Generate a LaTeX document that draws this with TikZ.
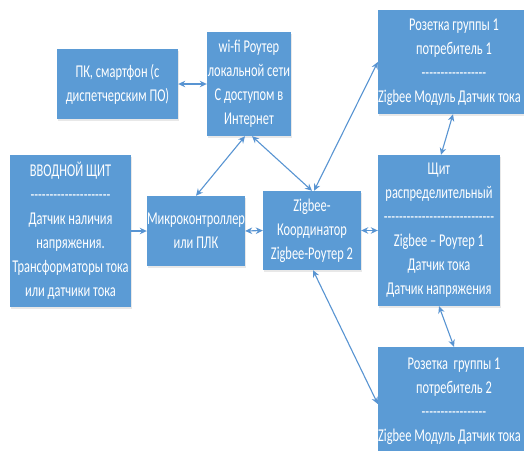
\documentclass[tikz,border=0pt]{standalone}
\usepackage{fontspec}
\setmainfont{Carlito}[FakeStretch=0.69,Ligatures=TeXOff]
\usetikzlibrary{arrows.meta,shadows}
\definecolor{boxblue}{RGB}{91,155,213}
\definecolor{linkblue}{RGB}{88,148,210}
\tikzset{
  block/.style={rectangle, fill=boxblue, draw=none, text=white, align=center,
    inner sep=0pt, font=\fontsize{18pt}{24pt}\selectfont,
    drop shadow={opacity=0.18, shadow xshift=1pt, shadow yshift=-2pt}},
  link/.style={draw=linkblue, line width=1.1pt,
    {Stealth[length=7pt,width=6.5pt]}-{Stealth[length=7pt,width=6.5pt]}},
  onelink/.style={draw=linkblue, line width=1.1pt, -{Stealth[length=7pt,width=6.5pt]}}
}
\begin{document}
\begin{tikzpicture}[x=1pt,y=-1pt]
\clip (0,0) rectangle (524,450);
\fill[white] (0,0) rectangle (524,450);

% blocks
\node[block, minimum width=121pt, minimum height=70pt] (pc) at (117.5,84)
  {ПК, смартфон (с\\диспетчерским ПО)};
\node[block, minimum width=84pt, minimum height=104pt] (wifi) at (249,84)
  {wi-fi Роутер\\локальной сети\\С доступом в\\Интернет};
\node[block, minimum width=152pt, minimum height=104pt] (soc1) at (454,62)
  {Розетка группы 1\\потребитель 1\\-----------------\\Zigbee Модуль Датчик тока 1};
\node[block, minimum width=121pt, minimum height=152pt] (inlet) at (70.5,231)
  {ВВОДНОЙ ЩИТ\\---------------------\\Датчик наличия\\напряжения.\\Трансформаторы тока\\или датчики тока};
\node[block, minimum width=98pt, minimum height=70pt] (mcu) at (196,231)
  {Микроконтроллер\\или ПЛК};
\node[block, minimum width=98pt, minimum height=79pt] (coord) at (312,230.5)
  {Zigbee-\\Координатор\\Zigbee-Роутер 2};
\node[block, minimum width=122pt, minimum height=151pt] (panel) at (439,230.5)
  {Щит\\распределительный\\-----------------------------\\Zigbee – Роутер 1\\Датчик тока\\Датчик напряжения};
\node[block, minimum width=152pt, minimum height=108pt] (soc2) at (454,401)
  {Розетка\ \ группы 1\\потребитель 2\\-----------------\\Zigbee Модуль Датчик тока 2};

% connectors
\draw[link] (pc.east) -- (wifi.west);
\draw[link] ([xshift=-4pt]wifi.south) -- (mcu.north);
\draw[link] ([xshift=3pt]wifi.south) -- (coord.north);
\draw[link] ([xshift=2pt]coord.north) -- (soc1.west);
\draw[onelink] (inlet.east) -- (mcu.west);
\draw[link] (mcu.east) -- (coord.west);
\draw[link] (coord.east) -- (panel.west);
\draw[link] ([xshift=1pt]coord.south) -- ([yshift=-3pt]soc2.west);
\draw[link] ([xshift=-1pt]soc1.south) -- ([xshift=2pt]panel.north);
\draw[link] (panel.south) -- (soc2.north);
\end{tikzpicture}
\end{document}
